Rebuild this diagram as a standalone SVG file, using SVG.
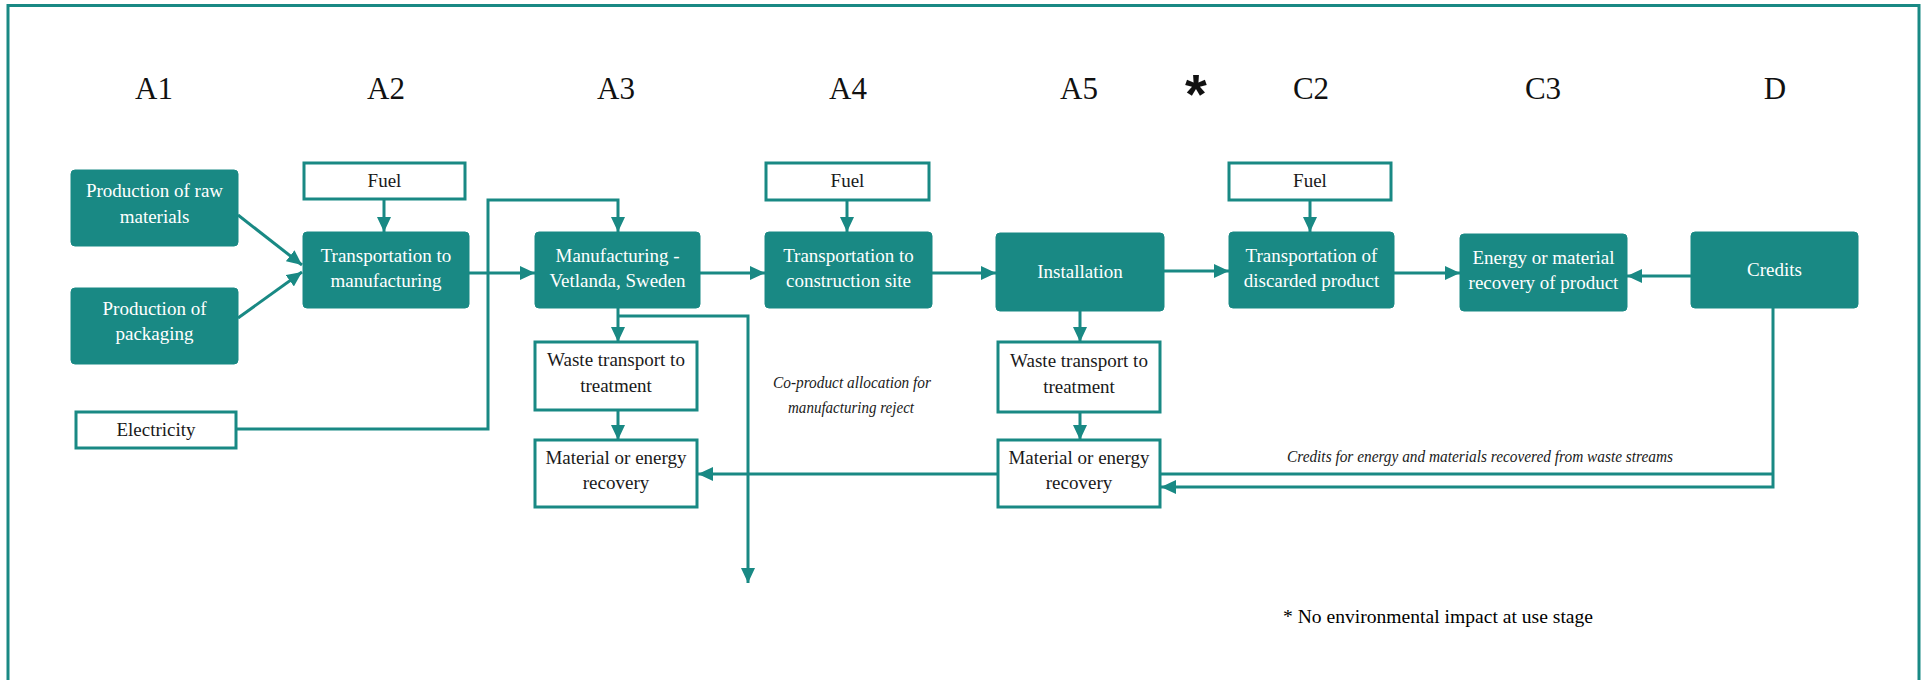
<svg xmlns="http://www.w3.org/2000/svg" width="1921" height="680" viewBox="0 0 1921 680">
<defs>
<style>
.frame{fill:none;stroke:#198984;stroke-width:3}
.solid{fill:#198984;stroke:#198984;stroke-width:1}
.open{fill:#ffffff;stroke:#198984;stroke-width:3}
.lbl{font-family:"Liberation Serif","Times New Roman",serif;font-size:31px;fill:#111;text-anchor:middle}
.wt{font-family:"Liberation Serif","Times New Roman",serif;font-size:19px;fill:#ffffff;text-anchor:middle}
.bt{font-family:"Liberation Serif","Times New Roman",serif;font-size:19px;fill:#1a1a1a;text-anchor:middle}
.it{font-family:"Liberation Serif","Times New Roman",serif;font-size:17px;font-style:italic;fill:#1a1a1a}
.note{font-family:"Liberation Serif","Times New Roman",serif;font-size:19px;fill:#000}
.ast{font-family:"Liberation Sans",Arial,sans-serif;font-size:56px;font-weight:bold;fill:#111;text-anchor:middle}
.con{fill:none;stroke:#198984;stroke-width:3}
</style>
<marker id="ah" markerUnits="userSpaceOnUse" markerWidth="16" markerHeight="14" refX="15" refY="7" orient="auto">
<path d="M0,0 L15,7 L0,14 Z" fill="#198984"/>
</marker>
</defs>
<rect width="1921" height="680" fill="#ffffff"/>
<rect class="frame" x="8" y="5.5" width="1911" height="720"/>

<g id="stage-labels">
<text class="lbl" x="154" y="99">A1</text>
<text class="lbl" x="386" y="99">A2</text>
<text class="lbl" x="616" y="99">A3</text>
<text class="lbl" x="848" y="99">A4</text>
<text class="lbl" x="1079" y="99">A5</text>
<text class="ast" x="1196" y="113">*</text>
<text class="lbl" x="1311" y="99">C2</text>
<text class="lbl" x="1543" y="99">C3</text>
<text class="lbl" x="1775" y="99">D</text>
</g>

<g id="connectors">
<line class="con" x1="238" y1="215" x2="302" y2="265" marker-end="url(#ah)"/>
<line class="con" x1="238" y1="318" x2="302" y2="272" marker-end="url(#ah)"/>
<line class="con" x1="384" y1="199" x2="384" y2="232" marker-end="url(#ah)"/>
<path class="con" d="M237,429 H488 V200 H618 V232" marker-end="url(#ah)"/>
<line class="con" x1="469" y1="273" x2="535" y2="273" marker-end="url(#ah)"/>
<line class="con" x1="618" y1="308" x2="618" y2="342" marker-end="url(#ah)"/>
<path class="con" d="M618,316 H748 V583" marker-end="url(#ah)"/>
<line class="con" x1="618" y1="410" x2="618" y2="440" marker-end="url(#ah)"/>
<line class="con" x1="700" y1="273" x2="765" y2="273" marker-end="url(#ah)"/>
<line class="con" x1="847" y1="200" x2="847" y2="232" marker-end="url(#ah)"/>
<line class="con" x1="932" y1="273" x2="996" y2="273" marker-end="url(#ah)"/>
<line class="con" x1="1164" y1="271" x2="1229" y2="271" marker-end="url(#ah)"/>
<line class="con" x1="1080" y1="311" x2="1080" y2="342" marker-end="url(#ah)"/>
<line class="con" x1="1080" y1="412" x2="1080" y2="440" marker-end="url(#ah)"/>
<line class="con" x1="998" y1="474" x2="698" y2="474" marker-end="url(#ah)"/>
<line class="con" x1="1310" y1="200" x2="1310" y2="232" marker-end="url(#ah)"/>
<line class="con" x1="1394" y1="273" x2="1460" y2="273" marker-end="url(#ah)"/>
<line class="con" x1="1691" y1="276" x2="1627" y2="276" marker-end="url(#ah)"/>
<path class="con" d="M1773,308 V487 H1161" marker-end="url(#ah)"/>
<path class="con" d="M1160,474 H1773"/>
<text class="it" x="852" y="388" text-anchor="middle" textLength="158" lengthAdjust="spacingAndGlyphs">Co-product allocation for</text>
<text class="it" x="851" y="413" text-anchor="middle" textLength="126" lengthAdjust="spacingAndGlyphs">manufacturing reject</text>
<text class="it" x="1287" y="462" textLength="386" lengthAdjust="spacingAndGlyphs">Credits for energy and materials recovered from waste streams</text>
</g>

<g id="raw-materials">
<rect class="solid" x="71" y="170" width="167" height="76" rx="4"/>
<text class="wt" x="154.5" y="197">Production of raw</text>
<text class="wt" x="154.5" y="223">materials</text>
</g>
<g id="packaging">
<rect class="solid" x="71" y="288" width="167" height="76" rx="4"/>
<text class="wt" x="154.5" y="315">Production of</text>
<text class="wt" x="154.5" y="340">packaging</text>
</g>
<g id="electricity">
<rect class="open" x="76" y="412" width="160" height="36"/>
<text class="bt" x="156" y="436">Electricity</text>
</g>
<g id="fuel-a2">
<rect class="open" x="304" y="163" width="161" height="36"/>
<text class="bt" x="384.5" y="187">Fuel</text>
</g>
<g id="transport-manufacturing">
<rect class="solid" x="303" y="232" width="166" height="76" rx="4"/>
<text class="wt" x="386" y="262">Transportation to</text>
<text class="wt" x="386" y="287">manufacturing</text>
</g>
<g id="manufacturing">
<rect class="solid" x="535" y="232" width="165" height="76" rx="4"/>
<text class="wt" x="617.5" y="262">Manufacturing -</text>
<text class="wt" x="617.5" y="287">Vetlanda, Sweden</text>
</g>
<g id="waste-a3">
<rect class="open" x="535" y="342" width="162" height="68"/>
<text class="bt" x="616" y="366">Waste transport to</text>
<text class="bt" x="616" y="392">treatment</text>
</g>
<g id="recovery-a3">
<rect class="open" x="535" y="440" width="162" height="67"/>
<text class="bt" x="616" y="464">Material or energy</text>
<text class="bt" x="616" y="489">recovery</text>
</g>
<g id="fuel-a4">
<rect class="open" x="766" y="163" width="163" height="37"/>
<text class="bt" x="847.5" y="187">Fuel</text>
</g>
<g id="transport-construction">
<rect class="solid" x="765" y="232" width="167" height="76" rx="4"/>
<text class="wt" x="848.5" y="262">Transportation to</text>
<text class="wt" x="848.5" y="287">construction site</text>
</g>
<g id="installation">
<rect class="solid" x="996" y="233" width="168" height="78" rx="4"/>
<text class="wt" x="1080" y="278">Installation</text>
</g>
<g id="waste-a5">
<rect class="open" x="998" y="342" width="162" height="70"/>
<text class="bt" x="1079" y="367">Waste transport to</text>
<text class="bt" x="1079" y="393">treatment</text>
</g>
<g id="recovery-a5">
<rect class="open" x="998" y="440" width="162" height="67"/>
<text class="bt" x="1079" y="464">Material or energy</text>
<text class="bt" x="1079" y="489">recovery</text>
</g>
<g id="fuel-c2">
<rect class="open" x="1229" y="163" width="162" height="37"/>
<text class="bt" x="1310" y="187">Fuel</text>
</g>
<g id="transport-discarded">
<rect class="solid" x="1229" y="232" width="165" height="76" rx="4"/>
<text class="wt" x="1311.5" y="262">Transportation of</text>
<text class="wt" x="1311.5" y="287">discarded product</text>
</g>
<g id="recovery-product">
<rect class="solid" x="1460" y="234" width="167" height="77" rx="4"/>
<text class="wt" x="1543.5" y="264">Energy or material</text>
<text class="wt" x="1543.5" y="289">recovery of product</text>
</g>
<g id="credits">
<rect class="solid" x="1691" y="232" width="167" height="76" rx="4"/>
<text class="wt" x="1774.5" y="276">Credits</text>
</g>

<g id="footnote">
<text class="note" x="1283" y="623" textLength="310" lengthAdjust="spacingAndGlyphs">* No environmental impact at use stage</text>
</g>
</svg>
